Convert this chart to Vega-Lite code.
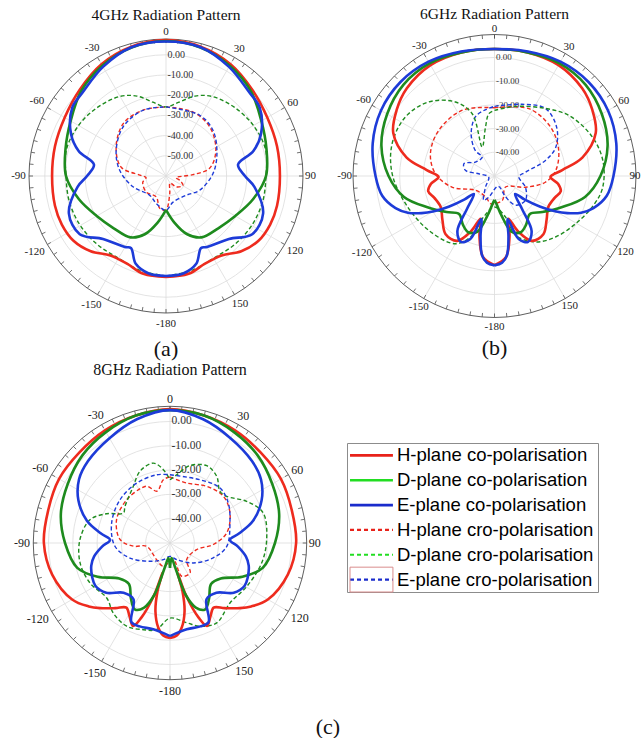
{
"$schema":"https://vega.github.io/schema/vega-lite/v6.json",
"padding":0,
"background":"white",
"config":{"view":{"stroke":null}},
"columns":2,
"align":"none",
"spacing":0,
"bounds":"flush",
"datasets":{
"circ":[{"ang":[0,5,10,15,20,25,30,35,40,45,50,55,60,65,70,75,80,85,90,95,100,105,110,115,120,125,130,135,140,145,150,155,160,165,170,175,180,185,190,195,200,205,210,215,220,225,230,235,240,245,250,255,260,265,270,275,280,285,290,295,300,305,310,315,320,325,330,335,340,345,350,355,360]}],
"ringsA":[{"ring":[-50,-40,-30,-20,-10,0],"ang":[0,5,10,15,20,25,30,35,40,45,50,55,60,65,70,75,80,85,90,95,100,105,110,115,120,125,130,135,140,145,150,155,160,165,170,175,180,185,190,195,200,205,210,215,220,225,230,235,240,245,250,255,260,265,270,275,280,285,290,295,300,305,310,315,320,325,330,335,340,345,350,355,360]}],
"ringsBC":[{"ring":[-40,-30,-20,-10,0],"ang":[0,5,10,15,20,25,30,35,40,45,50,55,60,65,70,75,80,85,90,95,100,105,110,115,120,125,130,135,140,145,150,155,160,165,170,175,180,185,190,195,200,205,210,215,220,225,230,235,240,245,250,255,260,265,270,275,280,285,290,295,300,305,310,315,320,325,330,335,340,345,350,355,360]}],
"spokes":[{"ang":[0,30,60,90,120,150,180,210,240,270,300,330]}],
"alabels":[{"ang":0,"label":"0"},{"ang":30,"label":"30"},{"ang":60,"label":"60"},{"ang":90,"label":"90"},{"ang":120,"label":"120"},{"ang":150,"label":"150"},{"ang":180,"label":"-180"},{"ang":-150,"label":"-150"},{"ang":-120,"label":"-120"},{"ang":-90,"label":"-90"},{"ang":-60,"label":"-60"},{"ang":-30,"label":"-30"}],
"rlabA":[{"db":0,"label":"0.00"},{"db":-10,"label":"-10.00"},{"db":-20,"label":"-20.00"},{"db":-30,"label":"-30.00"},{"db":-40,"label":"-40.00"},{"db":-50,"label":"-50.00"}],
"rlabBC":[{"db":0,"label":"0.00"},{"db":-10,"label":"-10.00"},{"db":-20,"label":"-20.00"},{"db":-30,"label":"-30.00"},{"db":-40,"label":"-40.00"}],
"legend":[{"name":"H-plane co-polarisation","c":"Hco"},{"name":"D-plane co-polarisation","c":"Dco"},{"name":"E-plane co-polarisation","c":"Eco"},{"name":"H-plane cro-polarisation","c":"Hcr"},{"name":"D-plane cro-polarisation","c":"Dcr"},{"name":"E-plane cro-polarisation","c":"Ecr"}],
"curvesA":[
{"s":"Hco","i":0,"ang":-180,"db":-10},{"s":"Hco","i":1,"ang":-167,"db":-10.3},{"s":"Hco","i":2,"ang":-156,"db":-12.5},{"s":"Hco","i":3,"ang":-145,"db":-12},{"s":"Hco","i":4,"ang":-135,"db":-7.3},{"s":"Hco","i":5,"ang":-125,"db":-4.1},{"s":"Hco","i":6,"ang":-115,"db":-3.1},{"s":"Hco","i":7,"ang":-105,"db":-3.1},{"s":"Hco","i":8,"ang":-90,"db":-3.6},{"s":"Hco","i":9,"ang":-75,"db":-3.1},{"s":"Hco","i":10,"ang":-60,"db":-2.1},{"s":"Hco","i":11,"ang":-45,"db":0.4},{"s":"Hco","i":12,"ang":-30,"db":3.9},{"s":"Hco","i":13,"ang":-15,"db":6.3},{"s":"Hco","i":14,"ang":0,"db":7.3},{"s":"Hco","i":15,"ang":15,"db":6.3},{"s":"Hco","i":16,"ang":30,"db":3.9},{"s":"Hco","i":17,"ang":45,"db":0.4},{"s":"Hco","i":18,"ang":60,"db":-2.1},{"s":"Hco","i":19,"ang":75,"db":-3.1},{"s":"Hco","i":20,"ang":90,"db":-3.6},{"s":"Hco","i":21,"ang":105,"db":-3.1},{"s":"Hco","i":22,"ang":115,"db":-3.1},{"s":"Hco","i":23,"ang":125,"db":-4.1},{"s":"Hco","i":24,"ang":135,"db":-7.3},{"s":"Hco","i":25,"ang":145,"db":-12},{"s":"Hco","i":26,"ang":156,"db":-12.5},{"s":"Hco","i":27,"ang":167,"db":-10.3},{"s":"Hco","i":28,"ang":180,"db":-10},
{"s":"Dco","i":0,"ang":-180,"db":-43.2},{"s":"Dco","i":1,"ang":-170,"db":-36.7},{"s":"Dco","i":2,"ang":-160,"db":-29.3},{"s":"Dco","i":3,"ang":-150,"db":-24.9},{"s":"Dco","i":4,"ang":-135,"db":-23.4},{"s":"Dco","i":5,"ang":-120,"db":-20.4},{"s":"Dco","i":6,"ang":-105,"db":-15.4},{"s":"Dco","i":7,"ang":-90,"db":-10.5},{"s":"Dco","i":8,"ang":-75,"db":-8.5},{"s":"Dco","i":9,"ang":-60,"db":-5.5},{"s":"Dco","i":10,"ang":-45,"db":-0.6},{"s":"Dco","i":11,"ang":-30,"db":3.1},{"s":"Dco","i":12,"ang":-15,"db":5.8},{"s":"Dco","i":13,"ang":0,"db":6.8},{"s":"Dco","i":14,"ang":15,"db":5.8},{"s":"Dco","i":15,"ang":30,"db":3.1},{"s":"Dco","i":16,"ang":45,"db":-0.6},{"s":"Dco","i":17,"ang":60,"db":-5.5},{"s":"Dco","i":18,"ang":75,"db":-8.5},{"s":"Dco","i":19,"ang":90,"db":-10.5},{"s":"Dco","i":20,"ang":105,"db":-15.4},{"s":"Dco","i":21,"ang":120,"db":-20.4},{"s":"Dco","i":22,"ang":135,"db":-23.4},{"s":"Dco","i":23,"ang":150,"db":-24.9},{"s":"Dco","i":24,"ang":160,"db":-29.3},{"s":"Dco","i":25,"ang":170,"db":-36.7},{"s":"Dco","i":26,"ang":180,"db":-43.2},
{"s":"Eco","i":0,"ang":-180,"db":-10.5},{"s":"Eco","i":1,"ang":-170,"db":-11},{"s":"Eco","i":2,"ang":-161,"db":-14},{"s":"Eco","i":3,"ang":-154,"db":-20.4},{"s":"Eco","i":4,"ang":-150,"db":-19.4},{"s":"Eco","i":5,"ang":-135,"db":-15.9},{"s":"Eco","i":6,"ang":-124,"db":-8.5},{"s":"Eco","i":7,"ang":-111,"db":-8.5},{"s":"Eco","i":8,"ang":-97,"db":-15.9},{"s":"Eco","i":9,"ang":-90,"db":-20.9},{"s":"Eco","i":10,"ang":-81,"db":-23.9},{"s":"Eco","i":11,"ang":-74,"db":-15},{"s":"Eco","i":12,"ang":-66,"db":-8.5},{"s":"Eco","i":13,"ang":-54,"db":-2.6},{"s":"Eco","i":14,"ang":-45,"db":-1.6},{"s":"Eco","i":15,"ang":-30,"db":2.4},{"s":"Eco","i":16,"ang":-15,"db":6},{"s":"Eco","i":17,"ang":0,"db":6.6},{"s":"Eco","i":18,"ang":15,"db":6},{"s":"Eco","i":19,"ang":30,"db":2.4},{"s":"Eco","i":20,"ang":45,"db":-1.6},{"s":"Eco","i":21,"ang":54,"db":-2.6},{"s":"Eco","i":22,"ang":66,"db":-8.5},{"s":"Eco","i":23,"ang":74,"db":-15},{"s":"Eco","i":24,"ang":81,"db":-23.9},{"s":"Eco","i":25,"ang":90,"db":-20.9},{"s":"Eco","i":26,"ang":97,"db":-15.9},{"s":"Eco","i":27,"ang":111,"db":-8.5},{"s":"Eco","i":28,"ang":124,"db":-8.5},{"s":"Eco","i":29,"ang":135,"db":-15.9},{"s":"Eco","i":30,"ang":150,"db":-19.4},{"s":"Eco","i":31,"ang":154,"db":-20.4},{"s":"Eco","i":32,"ang":161,"db":-14},{"s":"Eco","i":33,"ang":170,"db":-11},{"s":"Eco","i":34,"ang":180,"db":-10.5},
{"s":"Hcr","i":0,"ang":0,"db":-25.8},{"s":"Hcr","i":1,"ang":23,"db":-25.6},{"s":"Hcr","i":2,"ang":42,"db":-27.5},{"s":"Hcr","i":3,"ang":63,"db":-32.3},{"s":"Hcr","i":4,"ang":80,"db":-38.1},{"s":"Hcr","i":5,"ang":87,"db":-46.6},{"s":"Hcr","i":6,"ang":100,"db":-55},{"s":"Hcr","i":7,"ang":107,"db":-52.9},{"s":"Hcr","i":8,"ang":119,"db":-50.4},{"s":"Hcr","i":9,"ang":137,"db":-52.6},{"s":"Hcr","i":10,"ang":150,"db":-56},{"s":"Hcr","i":11,"ang":168,"db":-51.1},{"s":"Hcr","i":12,"ang":180,"db":-43.2},{"s":"Hcr","i":13,"ang":-169,"db":-43.7},{"s":"Hcr","i":14,"ang":-155,"db":-48.6},{"s":"Hcr","i":15,"ang":-129,"db":-47.4},{"s":"Hcr","i":16,"ang":-105,"db":-48.1},{"s":"Hcr","i":17,"ang":-95,"db":-50.1},{"s":"Hcr","i":18,"ang":-88,"db":-47.1},{"s":"Hcr","i":19,"ang":-79,"db":-37.4},{"s":"Hcr","i":20,"ang":-60,"db":-31.5},{"s":"Hcr","i":21,"ang":-39,"db":-26.5},{"s":"Hcr","i":22,"ang":-19,"db":-25.5},{"s":"Hcr","i":23,"ang":0,"db":-25.8},
{"s":"Dcr","i":0,"ang":-180,"db":-10.5},{"s":"Dcr","i":1,"ang":-165,"db":-11.5},{"s":"Dcr","i":2,"ang":-150,"db":-13},{"s":"Dcr","i":3,"ang":-135,"db":-12},{"s":"Dcr","i":4,"ang":-120,"db":-11},{"s":"Dcr","i":5,"ang":-105,"db":-10.5},{"s":"Dcr","i":6,"ang":-90,"db":-10.5},{"s":"Dcr","i":7,"ang":-75,"db":-9},{"s":"Dcr","i":8,"ang":-60,"db":-10},{"s":"Dcr","i":9,"ang":-45,"db":-12},{"s":"Dcr","i":10,"ang":-30,"db":-14.5},{"s":"Dcr","i":11,"ang":-20,"db":-17.9},{"s":"Dcr","i":12,"ang":-10,"db":-22.9},{"s":"Dcr","i":13,"ang":0,"db":-25.8},{"s":"Dcr","i":14,"ang":10,"db":-22.9},{"s":"Dcr","i":15,"ang":20,"db":-17.9},{"s":"Dcr","i":16,"ang":30,"db":-14.5},{"s":"Dcr","i":17,"ang":45,"db":-12},{"s":"Dcr","i":18,"ang":60,"db":-10},{"s":"Dcr","i":19,"ang":75,"db":-9},{"s":"Dcr","i":20,"ang":90,"db":-10.5},{"s":"Dcr","i":21,"ang":105,"db":-10.5},{"s":"Dcr","i":22,"ang":120,"db":-11},{"s":"Dcr","i":23,"ang":135,"db":-12},{"s":"Dcr","i":24,"ang":150,"db":-13},{"s":"Dcr","i":25,"ang":165,"db":-11.5},{"s":"Dcr","i":26,"ang":180,"db":-10.5},
{"s":"Ecr","i":0,"ang":0,"db":-25.8},{"s":"Ecr","i":1,"ang":29,"db":-25.6},{"s":"Ecr","i":2,"ang":46,"db":-27.6},{"s":"Ecr","i":3,"ang":66,"db":-32.4},{"s":"Ecr","i":4,"ang":87,"db":-36.7},{"s":"Ecr","i":5,"ang":113,"db":-41.9},{"s":"Ecr","i":6,"ang":133,"db":-46.1},{"s":"Ecr","i":7,"ang":165,"db":-46.6},{"s":"Ecr","i":8,"ang":180,"db":-43},{"s":"Ecr","i":9,"ang":-161,"db":-45.5},{"s":"Ecr","i":10,"ang":-140,"db":-47.5},{"s":"Ecr","i":11,"ang":-108,"db":-42.8},{"s":"Ecr","i":12,"ang":-83,"db":-36.9},{"s":"Ecr","i":13,"ang":-63,"db":-32.3},{"s":"Ecr","i":14,"ang":-41,"db":-27.7},{"s":"Ecr","i":15,"ang":-19,"db":-25.5},{"s":"Ecr","i":16,"ang":0,"db":-25.8}
],
"curvesB":[
{"s":"Hco","i":0,"ang":-180,"db":-12.4},{"s":"Hco","i":1,"ang":-172,"db":-15.4},{"s":"Hco","i":2,"ang":-166,"db":-23.8},{"s":"Hco","i":3,"ang":-162,"db":-31},{"s":"Hco","i":4,"ang":-157,"db":-24.7},{"s":"Hco","i":5,"ang":-150,"db":-18.4},{"s":"Hco","i":6,"ang":-140,"db":-17.9},{"s":"Hco","i":7,"ang":-130,"db":-21.3},{"s":"Hco","i":8,"ang":-120,"db":-23.8},{"s":"Hco","i":9,"ang":-110,"db":-23},{"s":"Hco","i":10,"ang":-103,"db":-21.3},{"s":"Hco","i":11,"ang":-97,"db":-23},{"s":"Hco","i":12,"ang":-91,"db":-26.4},{"s":"Hco","i":13,"ang":-85,"db":-21.3},{"s":"Hco","i":14,"ang":-78,"db":-12},{"s":"Hco","i":15,"ang":-67,"db":-3.6},{"s":"Hco","i":16,"ang":-56,"db":-0.2},{"s":"Hco","i":17,"ang":-45,"db":2.3},{"s":"Hco","i":18,"ang":-30,"db":4},{"s":"Hco","i":19,"ang":-15,"db":4},{"s":"Hco","i":20,"ang":0,"db":3.6},{"s":"Hco","i":21,"ang":15,"db":4},{"s":"Hco","i":22,"ang":30,"db":4},{"s":"Hco","i":23,"ang":45,"db":2.3},{"s":"Hco","i":24,"ang":56,"db":-0.2},{"s":"Hco","i":25,"ang":67,"db":-3.6},{"s":"Hco","i":26,"ang":78,"db":-12},{"s":"Hco","i":27,"ang":85,"db":-21.3},{"s":"Hco","i":28,"ang":91,"db":-26.4},{"s":"Hco","i":29,"ang":97,"db":-23},{"s":"Hco","i":30,"ang":103,"db":-21.3},{"s":"Hco","i":31,"ang":110,"db":-23},{"s":"Hco","i":32,"ang":120,"db":-23.8},{"s":"Hco","i":33,"ang":130,"db":-21.3},{"s":"Hco","i":34,"ang":140,"db":-17.9},{"s":"Hco","i":35,"ang":150,"db":-18.4},{"s":"Hco","i":36,"ang":157,"db":-24.7},{"s":"Hco","i":37,"ang":162,"db":-31},{"s":"Hco","i":38,"ang":166,"db":-23.8},{"s":"Hco","i":39,"ang":172,"db":-15.4},{"s":"Hco","i":40,"ang":180,"db":-12.4},
{"s":"Dco","i":0,"ang":-180,"db":-39.9},{"s":"Dco","i":1,"ang":-176,"db":-38.2},{"s":"Dco","i":2,"ang":-170,"db":-33.1},{"s":"Dco","i":3,"ang":-163,"db":-25.5},{"s":"Dco","i":4,"ang":-155,"db":-23.8},{"s":"Dco","i":5,"ang":-147,"db":-25.5},{"s":"Dco","i":6,"ang":-137,"db":-28.1},{"s":"Dco","i":7,"ang":-127,"db":-24.7},{"s":"Dco","i":8,"ang":-115,"db":-18.8},{"s":"Dco","i":9,"ang":-103,"db":-10.8},{"s":"Dco","i":10,"ang":-90,"db":-5.3},{"s":"Dco","i":11,"ang":-75,"db":-0.6},{"s":"Dco","i":12,"ang":-60,"db":2.3},{"s":"Dco","i":13,"ang":-45,"db":4.4},{"s":"Dco","i":14,"ang":-30,"db":4.9},{"s":"Dco","i":15,"ang":-15,"db":4},{"s":"Dco","i":16,"ang":0,"db":3.6},{"s":"Dco","i":17,"ang":15,"db":4},{"s":"Dco","i":18,"ang":30,"db":4.9},{"s":"Dco","i":19,"ang":45,"db":4.4},{"s":"Dco","i":20,"ang":60,"db":2.3},{"s":"Dco","i":21,"ang":75,"db":-0.6},{"s":"Dco","i":22,"ang":90,"db":-5.3},{"s":"Dco","i":23,"ang":103,"db":-10.8},{"s":"Dco","i":24,"ang":115,"db":-18.8},{"s":"Dco","i":25,"ang":127,"db":-24.7},{"s":"Dco","i":26,"ang":137,"db":-28.1},{"s":"Dco","i":27,"ang":147,"db":-25.5},{"s":"Dco","i":28,"ang":155,"db":-23.8},{"s":"Dco","i":29,"ang":163,"db":-25.5},{"s":"Dco","i":30,"ang":170,"db":-33.1},{"s":"Dco","i":31,"ang":176,"db":-38.2},{"s":"Dco","i":32,"ang":180,"db":-39.9},
{"s":"Eco","i":0,"ang":-180,"db":-12.3},{"s":"Eco","i":1,"ang":-175,"db":-13.3},{"s":"Eco","i":2,"ang":-171,"db":-16.2},{"s":"Eco","i":3,"ang":-167,"db":-23.8},{"s":"Eco","i":4,"ang":-163,"db":-31},{"s":"Eco","i":5,"ang":-159,"db":-21.5},{"s":"Eco","i":6,"ang":-153,"db":-18.8},{"s":"Eco","i":7,"ang":-146,"db":-22},{"s":"Eco","i":8,"ang":-140,"db":-32},{"s":"Eco","i":9,"ang":-131,"db":-38.5},{"s":"Eco","i":10,"ang":-128,"db":-34},{"s":"Eco","i":11,"ang":-124,"db":-27},{"s":"Eco","i":12,"ang":-120,"db":-20},{"s":"Eco","i":13,"ang":-117,"db":-15.5},{"s":"Eco","i":14,"ang":-113,"db":-10.3},{"s":"Eco","i":15,"ang":-108,"db":-6.1},{"s":"Eco","i":16,"ang":-100,"db":-1.9},{"s":"Eco","i":17,"ang":-90,"db":0.2},{"s":"Eco","i":18,"ang":-75,"db":3.2},{"s":"Eco","i":19,"ang":-60,"db":5.3},{"s":"Eco","i":20,"ang":-45,"db":6.1},{"s":"Eco","i":21,"ang":-30,"db":5.7},{"s":"Eco","i":22,"ang":-15,"db":4.4},{"s":"Eco","i":23,"ang":0,"db":3.6},{"s":"Eco","i":24,"ang":15,"db":4.4},{"s":"Eco","i":25,"ang":30,"db":5.7},{"s":"Eco","i":26,"ang":45,"db":6.1},{"s":"Eco","i":27,"ang":60,"db":5.3},{"s":"Eco","i":28,"ang":75,"db":3.2},{"s":"Eco","i":29,"ang":90,"db":0.2},{"s":"Eco","i":30,"ang":100,"db":-1.9},{"s":"Eco","i":31,"ang":108,"db":-6.1},{"s":"Eco","i":32,"ang":113,"db":-10.3},{"s":"Eco","i":33,"ang":117,"db":-15.5},{"s":"Eco","i":34,"ang":120,"db":-20},{"s":"Eco","i":35,"ang":124,"db":-27},{"s":"Eco","i":36,"ang":128,"db":-34},{"s":"Eco","i":37,"ang":131,"db":-38.5},{"s":"Eco","i":38,"ang":140,"db":-32},{"s":"Eco","i":39,"ang":146,"db":-22},{"s":"Eco","i":40,"ang":153,"db":-18.8},{"s":"Eco","i":41,"ang":159,"db":-21.5},{"s":"Eco","i":42,"ang":163,"db":-31},{"s":"Eco","i":43,"ang":167,"db":-23.8},{"s":"Eco","i":44,"ang":171,"db":-16.2},{"s":"Eco","i":45,"ang":175,"db":-13.3},{"s":"Eco","i":46,"ang":180,"db":-12.3},
{"s":"Hcr","i":0,"ang":0,"db":-21.2},{"s":"Hcr","i":1,"ang":27,"db":-18.1},{"s":"Hcr","i":2,"ang":49,"db":-18.6},{"s":"Hcr","i":3,"ang":68,"db":-20.8},{"s":"Hcr","i":4,"ang":85,"db":-24.1},{"s":"Hcr","i":5,"ang":97,"db":-28.4},{"s":"Hcr","i":6,"ang":110,"db":-36.1},{"s":"Hcr","i":7,"ang":135,"db":-43.4},{"s":"Hcr","i":8,"ang":162,"db":-39.2},{"s":"Hcr","i":9,"ang":180,"db":-38.3},{"s":"Hcr","i":10,"ang":-172,"db":-38.2},{"s":"Hcr","i":11,"ang":-157,"db":-40.4},{"s":"Hcr","i":12,"ang":-127,"db":-40},{"s":"Hcr","i":13,"ang":-105,"db":-31.6},{"s":"Hcr","i":14,"ang":-88,"db":-25.1},{"s":"Hcr","i":15,"ang":-71,"db":-21.4},{"s":"Hcr","i":16,"ang":-51,"db":-19.6},{"s":"Hcr","i":17,"ang":-26,"db":-19.1},{"s":"Hcr","i":18,"ang":0,"db":-21.2},
{"s":"Ecr","i":0,"ang":0,"db":-20.6},{"s":"Ecr","i":1,"ang":21,"db":-17.6},{"s":"Ecr","i":2,"ang":37,"db":-14.3},{"s":"Ecr","i":3,"ang":52,"db":-16.7},{"s":"Ecr","i":4,"ang":65,"db":-21.5},{"s":"Ecr","i":5,"ang":73,"db":-27.5},{"s":"Ecr","i":6,"ang":83,"db":-36.8},{"s":"Ecr","i":7,"ang":92,"db":-39.7},{"s":"Ecr","i":8,"ang":110,"db":-36.1},{"s":"Ecr","i":9,"ang":128,"db":-33.4},{"s":"Ecr","i":10,"ang":144,"db":-34.8},{"s":"Ecr","i":11,"ang":152,"db":-40},{"s":"Ecr","i":12,"ang":160,"db":-45.4},{"s":"Ecr","i":13,"ang":-165,"db":-40.8},{"s":"Ecr","i":14,"ang":-156,"db":-38.8},{"s":"Ecr","i":15,"ang":-141,"db":-44},{"s":"Ecr","i":16,"ang":-100,"db":-47.5},{"s":"Ecr","i":17,"ang":-82,"db":-43.3},{"s":"Ecr","i":18,"ang":-79,"db":-37.5},{"s":"Ecr","i":19,"ang":-68,"db":-36.1},{"s":"Ecr","i":20,"ang":-54,"db":-40},{"s":"Ecr","i":21,"ang":-33,"db":-40.5},{"s":"Ecr","i":22,"ang":-37,"db":-36.5},{"s":"Ecr","i":23,"ang":-29,"db":-29.7},{"s":"Ecr","i":24,"ang":-18,"db":-23.8},{"s":"Ecr","i":25,"ang":-8,"db":-21.8},{"s":"Ecr","i":26,"ang":0,"db":-20.6},
{"s":"Dcr","i":0,"ang":0,"db":-22.3},{"s":"Dcr","i":1,"ang":17,"db":-19.3},{"s":"Dcr","i":2,"ang":37,"db":-14.3},{"s":"Dcr","i":3,"ang":51,"db":-9.5},{"s":"Dcr","i":4,"ang":68,"db":-5.6},{"s":"Dcr","i":5,"ang":82,"db":-3.8},{"s":"Dcr","i":6,"ang":96,"db":-4.1},{"s":"Dcr","i":7,"ang":106,"db":-6.3},{"s":"Dcr","i":8,"ang":120.5,"db":-10.3},{"s":"Dcr","i":9,"ang":135,"db":-13.6},{"s":"Dcr","i":10,"ang":148,"db":-17.2},{"s":"Dcr","i":11,"ang":160.5,"db":-23.5},{"s":"Dcr","i":12,"ang":165,"db":-32.1},{"s":"Dcr","i":13,"ang":180,"db":-36.9},{"s":"Dcr","i":14,"ang":-165,"db":-32.1},{"s":"Dcr","i":15,"ang":-159.4,"db":-23.2},{"s":"Dcr","i":16,"ang":-150,"db":-17},{"s":"Dcr","i":17,"ang":-129.6,"db":-14},{"s":"Dcr","i":18,"ang":-107.3,"db":-10.7},{"s":"Dcr","i":19,"ang":-88.7,"db":-6.8},{"s":"Dcr","i":20,"ang":-72.5,"db":-4.7},{"s":"Dcr","i":21,"ang":-56.5,"db":-4.9},{"s":"Dcr","i":22,"ang":-41.6,"db":-8.2},{"s":"Dcr","i":23,"ang":-27.8,"db":-14.7},{"s":"Dcr","i":24,"ang":-19.7,"db":-22.1},{"s":"Dcr","i":25,"ang":-23,"db":-36.7},{"s":"Dcr","i":26,"ang":-10.4,"db":-29},{"s":"Dcr","i":27,"ang":-5.2,"db":-23.6},{"s":"Dcr","i":28,"ang":0,"db":-22.3}
],
"curvesC":[
{"s":"Hco","i":0,"ang":-180,"db":-10.9},{"s":"Hco","i":1,"ang":-176,"db":-11.7},{"s":"Hco","i":2,"ang":-172,"db":-15},{"s":"Hco","i":3,"ang":-168,"db":-21.2},{"s":"Hco","i":4,"ang":-165.5,"db":-29.4},{"s":"Hco","i":5,"ang":-166,"db":-37.7},{"s":"Hco","i":6,"ang":-163,"db":-27.4},{"s":"Hco","i":7,"ang":-159,"db":-17.1},{"s":"Hco","i":8,"ang":-156,"db":-12.6},{"s":"Hco","i":9,"ang":-151,"db":-15.6},{"s":"Hco","i":10,"ang":-146,"db":-17.9},{"s":"Hco","i":11,"ang":-140,"db":-15},{"s":"Hco","i":12,"ang":-133,"db":-10.7},{"s":"Hco","i":13,"ang":-128,"db":-7.6},{"s":"Hco","i":14,"ang":-120,"db":-3.5},{"s":"Hco","i":15,"ang":-105,"db":0.2},{"s":"Hco","i":16,"ang":-90,"db":1.9},{"s":"Hco","i":17,"ang":-75,"db":1.9},{"s":"Hco","i":18,"ang":-60,"db":2.7},{"s":"Hco","i":19,"ang":-45,"db":2.7},{"s":"Hco","i":20,"ang":-30,"db":3.5},{"s":"Hco","i":21,"ang":-15,"db":4.3},{"s":"Hco","i":22,"ang":0,"db":5.1},{"s":"Hco","i":23,"ang":15,"db":4.3},{"s":"Hco","i":24,"ang":30,"db":3.5},{"s":"Hco","i":25,"ang":45,"db":2.7},{"s":"Hco","i":26,"ang":60,"db":2.7},{"s":"Hco","i":27,"ang":75,"db":1.9},{"s":"Hco","i":28,"ang":90,"db":1.9},{"s":"Hco","i":29,"ang":105,"db":0.2},{"s":"Hco","i":30,"ang":120,"db":-3.5},{"s":"Hco","i":31,"ang":128,"db":-7.6},{"s":"Hco","i":32,"ang":133,"db":-10.7},{"s":"Hco","i":33,"ang":140,"db":-15},{"s":"Hco","i":34,"ang":146,"db":-17.9},{"s":"Hco","i":35,"ang":151,"db":-15.6},{"s":"Hco","i":36,"ang":156,"db":-12.6},{"s":"Hco","i":37,"ang":159,"db":-17.1},{"s":"Hco","i":38,"ang":163,"db":-27.4},{"s":"Hco","i":39,"ang":166,"db":-37.7},{"s":"Hco","i":40,"ang":165.5,"db":-29.4},{"s":"Hco","i":41,"ang":168,"db":-21.2},{"s":"Hco","i":42,"ang":172,"db":-15},{"s":"Hco","i":43,"ang":176,"db":-11.7},{"s":"Hco","i":44,"ang":180,"db":-10.9},
{"s":"Dco","i":0,"ang":-180,"db":-39.7},{"s":"Dco","i":1,"ang":-174,"db":-43.8},{"s":"Dco","i":2,"ang":-168,"db":-39.7},{"s":"Dco","i":3,"ang":-163,"db":-27.4},{"s":"Dco","i":4,"ang":-158,"db":-21.2},{"s":"Dco","i":5,"ang":-152,"db":-19.1},{"s":"Dco","i":6,"ang":-145,"db":-22},{"s":"Dco","i":7,"ang":-135,"db":-26.1},{"s":"Dco","i":8,"ang":-125,"db":-24.5},{"s":"Dco","i":9,"ang":-115,"db":-17.1},{"s":"Dco","i":10,"ang":-105,"db":-10.5},{"s":"Dco","i":11,"ang":-90,"db":-6.8},{"s":"Dco","i":12,"ang":-75,"db":-3.5},{"s":"Dco","i":13,"ang":-60,"db":-1.4},{"s":"Dco","i":14,"ang":-45,"db":1},{"s":"Dco","i":15,"ang":-30,"db":2.7},{"s":"Dco","i":16,"ang":-15,"db":4.3},{"s":"Dco","i":17,"ang":0,"db":4.7},{"s":"Dco","i":18,"ang":15,"db":4.3},{"s":"Dco","i":19,"ang":30,"db":2.7},{"s":"Dco","i":20,"ang":45,"db":1},{"s":"Dco","i":21,"ang":60,"db":-1.4},{"s":"Dco","i":22,"ang":75,"db":-3.5},{"s":"Dco","i":23,"ang":90,"db":-6.8},{"s":"Dco","i":24,"ang":105,"db":-10.5},{"s":"Dco","i":25,"ang":115,"db":-17.1},{"s":"Dco","i":26,"ang":125,"db":-24.5},{"s":"Dco","i":27,"ang":135,"db":-26.1},{"s":"Dco","i":28,"ang":145,"db":-22},{"s":"Dco","i":29,"ang":152,"db":-19.1},{"s":"Dco","i":30,"ang":158,"db":-21.2},{"s":"Dco","i":31,"ang":163,"db":-27.4},{"s":"Dco","i":32,"ang":168,"db":-39.7},{"s":"Dco","i":33,"ang":174,"db":-43.8},{"s":"Dco","i":34,"ang":180,"db":-39.7},
{"s":"Eco","i":0,"ang":-180,"db":-11.7},{"s":"Eco","i":1,"ang":-169,"db":-13.8},{"s":"Eco","i":2,"ang":-160,"db":-13.5},{"s":"Eco","i":3,"ang":-154,"db":-13.8},{"s":"Eco","i":4,"ang":-147,"db":-22.4},{"s":"Eco","i":5,"ang":-137,"db":-22},{"s":"Eco","i":6,"ang":-128,"db":-16.7},{"s":"Eco","i":7,"ang":-120,"db":-14.6},{"s":"Eco","i":8,"ang":-114,"db":-15},{"s":"Eco","i":9,"ang":-106,"db":-16.3},{"s":"Eco","i":10,"ang":-100,"db":-18.3},{"s":"Eco","i":11,"ang":-93,"db":-22},{"s":"Eco","i":12,"ang":-87,"db":-25.3},{"s":"Eco","i":13,"ang":-82,"db":-21.2},{"s":"Eco","i":14,"ang":-75,"db":-14.6},{"s":"Eco","i":15,"ang":-65,"db":-8.4},{"s":"Eco","i":16,"ang":-55,"db":-4.3},{"s":"Eco","i":17,"ang":-45,"db":-2.3},{"s":"Eco","i":18,"ang":-30,"db":-0.2},{"s":"Eco","i":19,"ang":-15,"db":2.7},{"s":"Eco","i":20,"ang":0,"db":4.7},{"s":"Eco","i":21,"ang":15,"db":2.7},{"s":"Eco","i":22,"ang":30,"db":-0.2},{"s":"Eco","i":23,"ang":45,"db":-2.3},{"s":"Eco","i":24,"ang":55,"db":-4.3},{"s":"Eco","i":25,"ang":65,"db":-8.4},{"s":"Eco","i":26,"ang":75,"db":-14.6},{"s":"Eco","i":27,"ang":82,"db":-21.2},{"s":"Eco","i":28,"ang":87,"db":-25.3},{"s":"Eco","i":29,"ang":93,"db":-22},{"s":"Eco","i":30,"ang":100,"db":-18.3},{"s":"Eco","i":31,"ang":106,"db":-16.3},{"s":"Eco","i":32,"ang":114,"db":-15},{"s":"Eco","i":33,"ang":120,"db":-14.6},{"s":"Eco","i":34,"ang":128,"db":-16.7},{"s":"Eco","i":35,"ang":137,"db":-22},{"s":"Eco","i":36,"ang":147,"db":-22.4},{"s":"Eco","i":37,"ang":154,"db":-13.8},{"s":"Eco","i":38,"ang":160,"db":-13.5},{"s":"Eco","i":39,"ang":169,"db":-13.8},{"s":"Eco","i":40,"ang":180,"db":-11.7},
{"s":"Hcr","i":0,"ang":0,"db":-22.8},{"s":"Hcr","i":1,"ang":15.5,"db":-24.4},{"s":"Hcr","i":2,"ang":33,"db":-22.2},{"s":"Hcr","i":3,"ang":48.8,"db":-20.8},{"s":"Hcr","i":4,"ang":63.4,"db":-22.4},{"s":"Hcr","i":5,"ang":80,"db":-26.3},{"s":"Hcr","i":6,"ang":92,"db":-32.2},{"s":"Hcr","i":7,"ang":104,"db":-38.7},{"s":"Hcr","i":8,"ang":135,"db":-40.3},{"s":"Hcr","i":9,"ang":146,"db":-35.2},{"s":"Hcr","i":10,"ang":160.6,"db":-35.5},{"s":"Hcr","i":11,"ang":169,"db":-43},{"s":"Hcr","i":12,"ang":-164,"db":-40},{"s":"Hcr","i":13,"ang":-141,"db":-41.2},{"s":"Hcr","i":14,"ang":-98,"db":-40.3},{"s":"Hcr","i":15,"ang":-95,"db":-34.9},{"s":"Hcr","i":16,"ang":-86,"db":-29.4},{"s":"Hcr","i":17,"ang":-66.4,"db":-26},{"s":"Hcr","i":18,"ang":-45,"db":-24.8},{"s":"Hcr","i":19,"ang":-28,"db":-24.5},{"s":"Hcr","i":20,"ang":-22,"db":-24.8},{"s":"Hcr","i":21,"ang":-14,"db":-28},{"s":"Hcr","i":22,"ang":-6,"db":-23.8},{"s":"Hcr","i":23,"ang":0,"db":-22.8},
{"s":"Dcr","i":0,"ang":0,"db":-24},{"s":"Dcr","i":1,"ang":5.6,"db":-21.8},{"s":"Dcr","i":2,"ang":14.5,"db":-17.1},{"s":"Dcr","i":3,"ang":25.4,"db":-14.8},{"s":"Dcr","i":4,"ang":35,"db":-16.5},{"s":"Dcr","i":5,"ang":44,"db":-20.4},{"s":"Dcr","i":6,"ang":50.5,"db":-19.8},{"s":"Dcr","i":7,"ang":61.5,"db":-14.1},{"s":"Dcr","i":8,"ang":72.2,"db":-9.7},{"s":"Dcr","i":9,"ang":88,"db":-10.2},{"s":"Dcr","i":10,"ang":102.3,"db":-11.4},{"s":"Dcr","i":11,"ang":119.5,"db":-13.7},{"s":"Dcr","i":12,"ang":135,"db":-15.1},{"s":"Dcr","i":13,"ang":149.7,"db":-11.9},{"s":"Dcr","i":14,"ang":160,"db":-13.5},{"s":"Dcr","i":15,"ang":168,"db":-16.4},{"s":"Dcr","i":16,"ang":180,"db":-19.1},{"s":"Dcr","i":17,"ang":-171,"db":-13.9},{"s":"Dcr","i":18,"ang":-163,"db":-12.7},{"s":"Dcr","i":19,"ang":-152.5,"db":-11.4},{"s":"Dcr","i":20,"ang":-141,"db":-12.9},{"s":"Dcr","i":21,"ang":-131,"db":-15.5},{"s":"Dcr","i":22,"ang":-116.6,"db":-13.2},{"s":"Dcr","i":23,"ang":-102.5,"db":-12.1},{"s":"Dcr","i":24,"ang":-87.9,"db":-12.9},{"s":"Dcr","i":25,"ang":-73.8,"db":-15.7},{"s":"Dcr","i":26,"ang":-65.2,"db":-21.3},{"s":"Dcr","i":27,"ang":-57.3,"db":-27.2},{"s":"Dcr","i":28,"ang":-50.8,"db":-26.1},{"s":"Dcr","i":29,"ang":-32.9,"db":-22.2},{"s":"Dcr","i":30,"ang":-22.7,"db":-18},{"s":"Dcr","i":31,"ang":-11.8,"db":-16.4},{"s":"Dcr","i":32,"ang":-5.2,"db":-19.7},{"s":"Dcr","i":33,"ang":0,"db":-24},
{"s":"Ecr","i":0,"ang":0,"db":-21.9},{"s":"Ecr","i":1,"ang":25.4,"db":-21.2},{"s":"Ecr","i":2,"ang":42.3,"db":-19.4},{"s":"Ecr","i":3,"ang":55.5,"db":-20.9},{"s":"Ecr","i":4,"ang":71.6,"db":-24},{"s":"Ecr","i":5,"ang":93.4,"db":-26.6},{"s":"Ecr","i":6,"ang":109,"db":-31.2},{"s":"Ecr","i":7,"ang":130.6,"db":-37.4},{"s":"Ecr","i":8,"ang":158,"db":-42.6},{"s":"Ecr","i":9,"ang":180,"db":-44.5},{"s":"Ecr","i":10,"ang":-158,"db":-42.6},{"s":"Ecr","i":11,"ang":-132.5,"db":-38.9},{"s":"Ecr","i":12,"ang":-110.6,"db":-32.4},{"s":"Ecr","i":13,"ang":-93.4,"db":-27.3},{"s":"Ecr","i":14,"ang":-71,"db":-24.6},{"s":"Ecr","i":15,"ang":-49,"db":-22.8},{"s":"Ecr","i":16,"ang":-29,"db":-21.8},{"s":"Ecr","i":17,"ang":-11,"db":-21.4},{"s":"Ecr","i":18,"ang":0,"db":-21.9}
]
},
"concat":[
{"width":332,"height":352,
"encoding":{"x":{"field":"x","type":"quantitative","scale":{"domain":[-82.18,82.18],"nice":false,"zero":false},"axis":null},"y":{"field":"y","type":"quantitative","scale":{"domain":[-87.13,87.13],"nice":false,"zero":false},"axis":null}},
"layer":[
{"data":{"name":"ringsA"},"transform":[{"flatten":["ring"]},{"flatten":["ang"]},{"calculate":"(datum.ring+60)*sin(datum.ang*PI/180)","as":"x"},{"calculate":"(datum.ring+60)*cos(datum.ang*PI/180)","as":"y"}],"mark":{"type":"line","stroke":"#dcdcdc","strokeWidth":0.8},"encoding":{"detail":{"field":"ring","type":"nominal"},"order":{"field":"ang","type":"quantitative"}}},
{"data":{"name":"spokes"},"transform":[{"flatten":["ang"]},{"calculate":"67.82*sin(datum.ang*PI/180)","as":"x"},{"calculate":"67.82*cos(datum.ang*PI/180)","as":"y"}],"mark":{"type":"rule","stroke":"#dcdcdc","strokeWidth":0.8},"encoding":{"x2":{"datum":0},"y2":{"datum":0}}},
{"data":{"name":"circ"},"transform":[{"flatten":["ang"]},{"calculate":"67.82*sin(datum.ang*PI/180)","as":"x"},{"calculate":"67.82*cos(datum.ang*PI/180)","as":"y"}],"mark":{"type":"line","stroke":"#4d4d4d","strokeWidth":0.9},"encoding":{"order":{"field":"ang","type":"quantitative"}}},
{"data":{"name":"circ"},"transform":[{"flatten":["ang"]},{"calculate":"65.84*sin(datum.ang*PI/180)","as":"x"},{"calculate":"65.84*cos(datum.ang*PI/180)","as":"y"},{"calculate":"67.82*sin(datum.ang*PI/180)","as":"x2"},{"calculate":"67.82*cos(datum.ang*PI/180)","as":"y2"}],"mark":{"type":"rule","stroke":"#4d4d4d","strokeWidth":0.8},"encoding":{"x2":{"field":"x2"},"y2":{"field":"y2"}}},
{"data":{"name":"alabels"},"transform":[{"calculate":"67.82+(1.5+5.5*abs(cos(datum.ang*PI/180))+3*length(datum.label)*abs(sin(datum.ang*PI/180))+(datum.ang==180?4:0))/2.02","as":"rl"},{"calculate":"datum.rl*sin(datum.ang*PI/180)","as":"x"},{"calculate":"datum.rl*cos(datum.ang*PI/180)","as":"y"}],"mark":{"type":"text","font":"Liberation Serif","fontSize":11,"color":"#222222","align":"center","baseline":"middle"},"encoding":{"text":{"field":"label"}}},
{"data":{"name":"rlabA"},"transform":[{"calculate":"datum.db+60","as":"y"},{"calculate":"0","as":"x"}],"mark":{"type":"text","font":"Liberation Serif","fontSize":10,"color":"#333333","align":"left","baseline":"middle","dx":1.5},"encoding":{"text":{"field":"label"}}},
{"data":{"name":"curvesA"},"transform":[{"filter":"indexof(['Hcr','Dcr','Ecr'],datum.s)>=0"},{"calculate":"(datum.db+60)*sin(datum.ang*PI/180)","as":"x"},{"calculate":"(datum.db+60)*cos(datum.ang*PI/180)","as":"y"}],"mark":{"type":"line","interpolate":"catmull-rom","strokeWidth":1.4,"strokeDash":[4,2.5]},"encoding":{"color":{"field":"s","type":"nominal","scale":{"domain":["Hco","Dco","Eco","Hcr","Dcr","Ecr"],"range":["#ee2b1e","#1e8b1e","#1d3bd8","#ee2b1e","#1e8b1e","#1d3bd8"]},"legend":null},"order":{"field":"i","type":"quantitative"}}},
{"data":{"name":"curvesA"},"transform":[{"filter":"indexof(['Hco','Dco','Eco'],datum.s)>=0"},{"calculate":"(datum.db+60)*sin(datum.ang*PI/180)","as":"x"},{"calculate":"(datum.db+60)*cos(datum.ang*PI/180)","as":"y"}],"mark":{"type":"line","interpolate":"catmull-rom","strokeWidth":2.6},"encoding":{"color":{"field":"s","type":"nominal","scale":{"domain":["Hco","Dco","Eco","Hcr","Dcr","Ecr"],"range":["#ee2b1e","#1e8b1e","#1d3bd8","#ee2b1e","#1e8b1e","#1d3bd8"]},"legend":null},"order":{"field":"i","type":"quantitative"}}},
{"data":{"values":[{"label":"4GHz Radiation Pattern"}]},"transform":[{"calculate":"0","as":"x"},{"calculate":"79.7","as":"y"}],"mark":{"type":"text","font":"Liberation Serif","fontSize":15.5,"color":"#111111","align":"center","baseline":"middle"},"encoding":{"text":{"field":"label"}}},
{"data":{"values":[{"label":"(a)"}]},"transform":[{"calculate":"0","as":"x"},{"calculate":"-85.6","as":"y"}],"mark":{"type":"text","font":"Liberation Serif","fontSize":22,"color":"#111111","align":"center","baseline":"middle"},"encoding":{"text":{"field":"label"}}}
]},
{"width":309,"height":352,
"encoding":{"x":{"field":"x","type":"quantitative","scale":{"domain":[-65.19,65.19],"nice":false,"zero":false},"axis":null},"y":{"field":"y","type":"quantitative","scale":{"domain":[-74.26,74.26],"nice":false,"zero":false},"axis":null}},
"layer":[
{"data":{"name":"ringsBC"},"transform":[{"flatten":["ring"]},{"flatten":["ang"]},{"calculate":"(datum.ring+50)*sin(datum.ang*PI/180)","as":"x"},{"calculate":"(datum.ring+50)*cos(datum.ang*PI/180)","as":"y"}],"mark":{"type":"line","stroke":"#dcdcdc","strokeWidth":0.8},"encoding":{"detail":{"field":"ring","type":"nominal"},"order":{"field":"ang","type":"quantitative"}}},
{"data":{"name":"spokes"},"transform":[{"flatten":["ang"]},{"calculate":"59.7*sin(datum.ang*PI/180)","as":"x"},{"calculate":"59.7*cos(datum.ang*PI/180)","as":"y"}],"mark":{"type":"rule","stroke":"#dcdcdc","strokeWidth":0.8},"encoding":{"x2":{"datum":0},"y2":{"datum":0}}},
{"data":{"name":"circ"},"transform":[{"flatten":["ang"]},{"calculate":"59.7*sin(datum.ang*PI/180)","as":"x"},{"calculate":"59.7*cos(datum.ang*PI/180)","as":"y"}],"mark":{"type":"line","stroke":"#4d4d4d","strokeWidth":0.9},"encoding":{"order":{"field":"ang","type":"quantitative"}}},
{"data":{"name":"circ"},"transform":[{"flatten":["ang"]},{"calculate":"58.01*sin(datum.ang*PI/180)","as":"x"},{"calculate":"58.01*cos(datum.ang*PI/180)","as":"y"},{"calculate":"59.7*sin(datum.ang*PI/180)","as":"x2"},{"calculate":"59.7*cos(datum.ang*PI/180)","as":"y2"}],"mark":{"type":"rule","stroke":"#4d4d4d","strokeWidth":0.8},"encoding":{"x2":{"field":"x2"},"y2":{"field":"y2"}}},
{"data":{"name":"alabels"},"transform":[{"calculate":"59.7+(1.5+4.5*abs(cos(datum.ang*PI/180))+(datum.ang==90?-1.2:2.3)*length(datum.label)*abs(sin(datum.ang*PI/180))+(datum.ang==180?4:0))/2.37","as":"rl"},{"calculate":"datum.rl*sin(datum.ang*PI/180)","as":"x"},{"calculate":"datum.rl*cos(datum.ang*PI/180)","as":"y"}],"mark":{"type":"text","font":"Liberation Serif","fontSize":11,"color":"#222222","align":"center","baseline":"middle"},"encoding":{"text":{"field":"label"}}},
{"data":{"name":"rlabBC"},"transform":[{"calculate":"datum.db+50","as":"y"},{"calculate":"0","as":"x"}],"mark":{"type":"text","font":"Liberation Serif","fontSize":9,"color":"#333333","align":"left","baseline":"middle","dx":1.5},"encoding":{"text":{"field":"label"}}},
{"data":{"name":"curvesB"},"transform":[{"filter":"indexof(['Hcr','Dcr','Ecr'],datum.s)>=0"},{"calculate":"(datum.db+50)*sin(datum.ang*PI/180)","as":"x"},{"calculate":"(datum.db+50)*cos(datum.ang*PI/180)","as":"y"}],"mark":{"type":"line","interpolate":"catmull-rom","strokeWidth":1.4,"strokeDash":[4,2.5]},"encoding":{"color":{"field":"s","type":"nominal","scale":{"domain":["Hco","Dco","Eco","Hcr","Dcr","Ecr"],"range":["#ee2b1e","#1e8b1e","#1d3bd8","#ee2b1e","#1e8b1e","#1d3bd8"]},"legend":null},"order":{"field":"i","type":"quantitative"}}},
{"data":{"name":"curvesB"},"transform":[{"filter":"indexof(['Hco','Dco','Eco'],datum.s)>=0"},{"calculate":"(datum.db+50)*sin(datum.ang*PI/180)","as":"x"},{"calculate":"(datum.db+50)*cos(datum.ang*PI/180)","as":"y"}],"mark":{"type":"line","interpolate":"catmull-rom","strokeWidth":2.6},"encoding":{"color":{"field":"s","type":"nominal","scale":{"domain":["Hco","Dco","Eco","Hcr","Dcr","Ecr"],"range":["#ee2b1e","#1e8b1e","#1d3bd8","#ee2b1e","#1e8b1e","#1d3bd8"]},"legend":null},"order":{"field":"i","type":"quantitative"}}},
{"data":{"values":[{"label":"6GHz Radiation Pattern"}]},"transform":[{"calculate":"0","as":"x"},{"calculate":"68.4","as":"y"}],"mark":{"type":"text","font":"Liberation Serif","fontSize":15.5,"color":"#111111","align":"center","baseline":"middle"},"encoding":{"text":{"field":"label"}}},
{"data":{"values":[{"label":"(b)"}]},"transform":[{"calculate":"0","as":"x"},{"calculate":"-72.5","as":"y"}],"mark":{"type":"text","font":"Liberation Serif","fontSize":22,"color":"#111111","align":"center","baseline":"middle"},"encoding":{"text":{"field":"label"}}}
]},
{"width":340,"height":382,
"encoding":{"x":{"field":"x","type":"quantitative","scale":{"domain":[-69.96,69.96],"nice":false,"zero":false},"axis":null},"y":{"field":"y","type":"quantitative","scale":{"domain":[-78.6,78.6],"nice":false,"zero":false},"axis":null}},
"layer":[
{"data":{"name":"ringsBC"},"transform":[{"flatten":["ring"]},{"flatten":["ang"]},{"calculate":"(datum.ring+50)*sin(datum.ang*PI/180)","as":"x"},{"calculate":"(datum.ring+50)*cos(datum.ang*PI/180)","as":"y"}],"mark":{"type":"line","stroke":"#dcdcdc","strokeWidth":0.8},"encoding":{"detail":{"field":"ring","type":"nominal"},"order":{"field":"ang","type":"quantitative"}}},
{"data":{"name":"spokes"},"transform":[{"flatten":["ang"]},{"calculate":"56.26*sin(datum.ang*PI/180)","as":"x"},{"calculate":"56.26*cos(datum.ang*PI/180)","as":"y"}],"mark":{"type":"rule","stroke":"#dcdcdc","strokeWidth":0.8},"encoding":{"x2":{"datum":0},"y2":{"datum":0}}},
{"data":{"name":"circ"},"transform":[{"flatten":["ang"]},{"calculate":"56.26*sin(datum.ang*PI/180)","as":"x"},{"calculate":"56.26*cos(datum.ang*PI/180)","as":"y"}],"mark":{"type":"line","stroke":"#4d4d4d","strokeWidth":0.9},"encoding":{"order":{"field":"ang","type":"quantitative"}}},
{"data":{"name":"circ"},"transform":[{"flatten":["ang"]},{"calculate":"54.61*sin(datum.ang*PI/180)","as":"x"},{"calculate":"54.61*cos(datum.ang*PI/180)","as":"y"},{"calculate":"56.26*sin(datum.ang*PI/180)","as":"x2"},{"calculate":"56.26*cos(datum.ang*PI/180)","as":"y2"}],"mark":{"type":"rule","stroke":"#4d4d4d","strokeWidth":0.8},"encoding":{"x2":{"field":"x2"},"y2":{"field":"y2"}}},
{"data":{"name":"alabels"},"transform":[{"calculate":"56.26+(1.5+6*abs(cos(datum.ang*PI/180))+3.3*length(datum.label)*abs(sin(datum.ang*PI/180))+(datum.ang==180?4:0))/2.43","as":"rl"},{"calculate":"datum.rl*sin(datum.ang*PI/180)","as":"x"},{"calculate":"datum.rl*cos(datum.ang*PI/180)","as":"y"}],"mark":{"type":"text","font":"Liberation Serif","fontSize":12,"color":"#222222","align":"center","baseline":"middle"},"encoding":{"text":{"field":"label"}}},
{"data":{"name":"rlabBC"},"transform":[{"calculate":"datum.db+50","as":"y"},{"calculate":"0","as":"x"}],"mark":{"type":"text","font":"Liberation Serif","fontSize":11.5,"color":"#333333","align":"left","baseline":"middle","dx":1.5},"encoding":{"text":{"field":"label"}}},
{"data":{"name":"curvesC"},"transform":[{"filter":"indexof(['Hcr','Dcr','Ecr'],datum.s)>=0"},{"calculate":"(datum.db+50)*sin(datum.ang*PI/180)","as":"x"},{"calculate":"(datum.db+50)*cos(datum.ang*PI/180)","as":"y"}],"mark":{"type":"line","interpolate":"catmull-rom","strokeWidth":1.4,"strokeDash":[4,2.5]},"encoding":{"color":{"field":"s","type":"nominal","scale":{"domain":["Hco","Dco","Eco","Hcr","Dcr","Ecr"],"range":["#ee2b1e","#1e8b1e","#1d3bd8","#ee2b1e","#1e8b1e","#1d3bd8"]},"legend":null},"order":{"field":"i","type":"quantitative"}}},
{"data":{"name":"curvesC"},"transform":[{"filter":"indexof(['Hco','Dco','Eco'],datum.s)>=0"},{"calculate":"(datum.db+50)*sin(datum.ang*PI/180)","as":"x"},{"calculate":"(datum.db+50)*cos(datum.ang*PI/180)","as":"y"}],"mark":{"type":"line","interpolate":"catmull-rom","strokeWidth":2.6},"encoding":{"color":{"field":"s","type":"nominal","scale":{"domain":["Hco","Dco","Eco","Hcr","Dcr","Ecr"],"range":["#ee2b1e","#1e8b1e","#1d3bd8","#ee2b1e","#1e8b1e","#1d3bd8"]},"legend":null},"order":{"field":"i","type":"quantitative"}}},
{"data":{"values":[{"label":"8GHz Radiation Pattern"}]},"transform":[{"calculate":"0","as":"x"},{"calculate":"71.3","as":"y"}],"mark":{"type":"text","font":"Liberation Serif","fontSize":16,"color":"#111111","align":"center","baseline":"middle"},"encoding":{"text":{"field":"label"}}},
{"data":{"values":[{"label":"(c)"}]},"transform":[{"calculate":"65","as":"x"},{"calculate":"-75.6","as":"y"}],"mark":{"type":"text","font":"Liberation Serif","fontSize":22,"color":"#111111","align":"center","baseline":"middle"},"encoding":{"text":{"field":"label"}}}
]},
{"vconcat":[
{"width":258,"height":91,"data":{"values":[{}]},"mark":{"type":"point","opacity":0}},
{"hconcat":[
{"width":7,"height":149,"data":{"values":[{}]},"mark":{"type":"point","opacity":0}},
{"width":251,"height":149,
"view":{"stroke":"#8c8c8c","strokeWidth":1},
"data":{"name":"legend"},
"encoding":{"y":{"field":"name","type":"nominal","sort":null,"scale":{"type":"band","paddingInner":0,"paddingOuter":0},"axis":null}},
"layer":[
{"transform":[{"filter":"indexof(['Hco','Dco','Eco'],datum.c)>=0"}],"mark":{"type":"rule","strokeWidth":2.6},"encoding":{"x":{"datum":1.2,"type":"quantitative","scale":{"domain":[0,100],"nice":false,"zero":false},"axis":null},"x2":{"datum":18.3},"stroke":{"field":"c","type":"nominal","scale":{"domain":["Hco","Dco","Eco","Hcr","Dcr","Ecr"],"range":["#e8221a","#22dd22","#1a2ccc","#e8221a","#22dd22","#1a2ccc"]},"legend":null}}},
{"transform":[{"filter":"indexof(['Hcr','Dcr','Ecr'],datum.c)>=0"}],"mark":{"type":"rule","strokeWidth":2.2,"strokeDash":[4,3]},"encoding":{"x":{"datum":1.2,"type":"quantitative","scale":{"domain":[0,100],"nice":false,"zero":false},"axis":null},"x2":{"datum":18.3},"stroke":{"field":"c","type":"nominal","scale":{"domain":["Hco","Dco","Eco","Hcr","Dcr","Ecr"],"range":["#e8221a","#22dd22","#1a2ccc","#e8221a","#22dd22","#1a2ccc"]},"legend":null}}},
{"transform":[{"filter":"datum.c=='Ecr'"}],"mark":{"type":"rect","filled":false,"stroke":"#d98c8c","strokeWidth":1},"encoding":{"x":{"datum":1.2,"type":"quantitative","scale":{"domain":[0,100],"nice":false,"zero":false},"axis":null},"x2":{"datum":18.3}}},
{"mark":{"type":"text","font":"Liberation Sans","fontSize":18.5,"color":"#000000","align":"left","baseline":"middle"},"encoding":{"x":{"datum":19.9,"type":"quantitative","scale":{"domain":[0,100],"nice":false,"zero":false},"axis":null},"text":{"field":"name"}}}
]}
],"spacing":0,"bounds":"flush"}
],"spacing":0,"bounds":"flush"}
]
}
